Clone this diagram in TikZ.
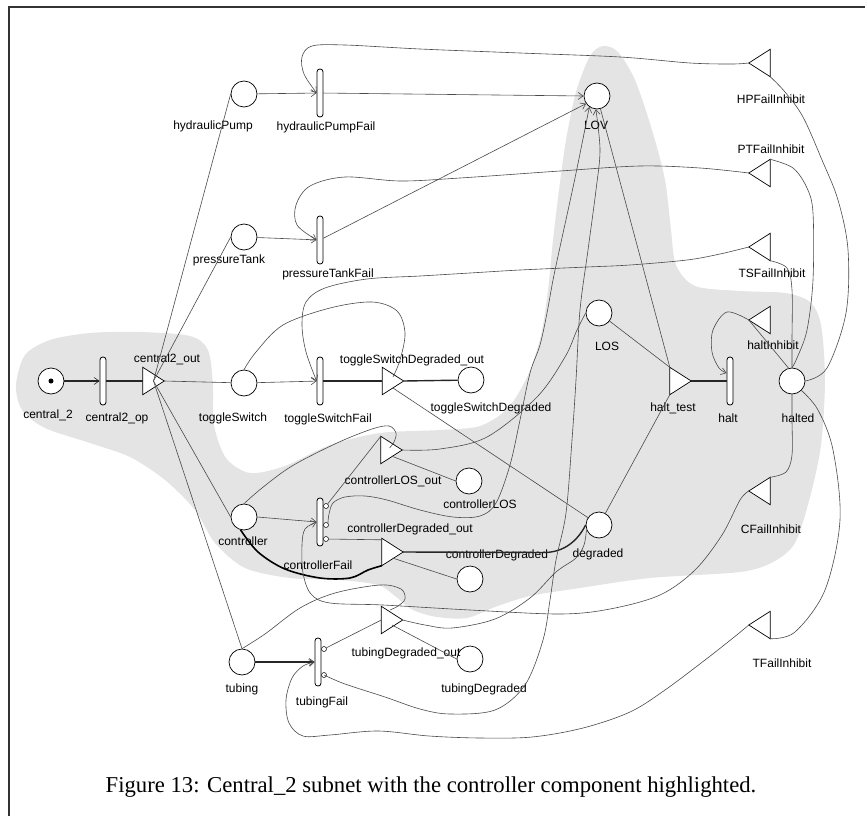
\documentclass[tikz,border=0pt]{standalone}
\usepackage{fontspec}
\setmainfont{Liberation Serif}
\newfontfamily\lblfont{Liberation Sans}
\usetikzlibrary{arrows.meta}
\definecolor{hilite}{HTML}{E4E4E4}
\definecolor{wire}{HTML}{4A4A4A}
\begin{document}
\begin{tikzpicture}[x=1pt,y=-1pt,
  place/.style={circle, draw=black, line width=0.7pt, fill=white, minimum size=26pt, inner sep=0pt},
  token/.style={circle, fill=black, minimum size=5pt, inner sep=0pt},
  trans/.style={rectangle, rounded corners=2.8pt, draw=black, line width=0.8pt, fill=white, minimum width=6pt, minimum height=48pt, inner sep=0pt},
  gate/.style={rectangle, minimum width=21pt, minimum height=27pt, inner sep=0pt},
  gateshape/.style={draw=black, line width=0.7pt, fill=white, line join=miter},
  casedot/.style={circle, draw=black, line width=0.5pt, fill=white, minimum size=5pt, inner sep=0pt},
  lbl/.style={font=\lblfont\fontsize{12}{14}\selectfont, anchor=base, inner sep=0pt},
  arcline/.style={draw=wire, line width=0.6pt},
  heavy/.style={draw=black!85, line width=1.4pt},
  thickarc/.style={draw=black, line width=1.6pt},
  arrowtip/.style={-{Straight Barb[length=5pt,width=7pt,line width=0.6pt]}},
  frame/.style={draw=black!80, line width=1.3pt}
]
\useasboundingbox (0,0) rectangle (865,816);

% highlighted component
\fill[hilite] plot[smooth cycle, tension=0.5] coordinates {
  (16,385) (25,355) (50,340) (90,333) (140,332) (190,336) (208,350) (213,385)
  (214,425) (226,458) (250,473) (285,466) (330,445) (380,433) (440,430) (480,426)
  (508,408) (528,375) (541,335) (548,290) (553,240) (559,190) (566,140) (576,92)
  (590,56) (603,46) (618,52) (635,80) (652,130) (665,180) (671,230) (676,265)
  (695,286) (740,291) (785,293) (810,302) (821,325) (825,380) (821,445) (810,497)
  (795,543) (773,562) (740,572) (650,578) (580,588) (530,596) (495,607) (467,618)
  (437,617) (413,610) (395,596) (378,585) (340,580) (290,578) (245,568) (215,543)
  (195,510) (165,480) (130,457) (90,443) (45,428) (22,410)};

% frame
\draw[frame] (9,816) -- (9,7) -- (865,7);

% places
\node[place] (c2) at (51,381) {};
\node[token] (c2tok) at (c2.center) {};
\node[place] (hp) at (244,94) {};
\node[place] (pt) at (244,237) {};
\node[place] (ts) at (244,383) {};
\node[place] (ctl) at (244,517) {};
\node[place] (tub) at (242,662) {};
\node[place] (lov) at (597,96) {};
\node[place] (tsdeg) at (471,380) {};
\node[place] (clos) at (469,481) {};
\node[place] (cdeg) at (470,579) {};
\node[place] (deg) at (599,525) {};
\node[place] (los) at (599,313) {};
\node[place] (halted) at (792,381) {};
\node[place] (tdeg) at (470,659) {};

% activities
\node[trans] (c2op) at (103,381) {};
\node[trans] (hpf) at (320,93) {};
\node[trans] (ptf) at (320,240) {};
\node[trans] (tsf) at (320,381) {};
\node[trans] (ctlf) at (320,522) {};
\node[trans] (tubf) at (318,662) {};
\node[trans] (halt) at (730,381) {};
\node[casedot] (cc1) at (326,506) {};
\node[casedot] (cc2) at (326,525) {};
\node[casedot] (cc3) at (326,539) {};
\node[casedot] (tc1) at (324,649) {};
\node[casedot] (tc2) at (324,675) {};

% output gates (pointing right)
\node[gate] (c2out) at (153.5,381) {};
\node[gate] (tsdo) at (393,381) {};
\node[gate] (clo) at (391.5,450) {};
\node[gate] (cdo) at (392.5,552) {};
\node[gate] (tdo) at (392,620) {};
\node[gate] (htest) at (680.5,381) {};
\foreach \g in {c2out,tsdo,clo,cdo,tdo,htest}
  \draw[gateshape] (\g.north west) -- (\g.east) -- (\g.south west) -- cycle;

% input gates (pointing left)
\node[gate] (hpfi) at (759.5,63) {};
\node[gate] (ptfi) at (759.5,173) {};
\node[gate] (tsfi) at (759.5,247) {};
\node[gate] (hinh) at (759.5,320) {};
\node[gate] (cfi) at (759.5,491) {};
\node[gate] (tfi) at (759.5,625) {};
\foreach \g in {hpfi,ptfi,tsfi,hinh,cfi,tfi}
  \draw[gateshape] (\g.north east) -- (\g.west) -- (\g.south east) -- cycle;

% labels
\node[lbl] (l1) at (48,418) {central\_2};
\node[lbl] (l2) at (117,421) {central2\_op};
\node[lbl] (l3) at (167,362) {central2\_out};
\node[lbl] (l4) at (213,129) {hydraulicPump};
\node[lbl] (l5) at (326,130) {hydraulicPumpFail};
\node[lbl] (l6) at (229,263) {pressureTank};
\node[lbl] (l7) at (328,277) {pressureTankFail};
\node[lbl] (l8) at (233,421) {toggleSwitch};
\node[lbl] (l9) at (328,422) {toggleSwitchFail};
\node[lbl] (l10) at (412,363) {toggleSwitchDegraded\_out};
\node[lbl] (l11) at (491,411) {toggleSwitchDegraded};
\node[lbl] (l12) at (393,484) {controllerLOS\_out};
\node[lbl] (l13) at (480,508) {controllerLOS};
\node[lbl] (l14) at (410,532) {controllerDegraded\_out};
\node[lbl] (l15) at (497,558) {controllerDegraded};
\node[lbl] (l16) at (243,545) {controller};
\node[lbl] (l17) at (318,569) {controllerFail};
\node[lbl] (l18) at (598,557) {degraded};
\node[lbl] (l19) at (607,350) {LOS};
\node[lbl] (l20) at (596,129) {LOV};
\node[lbl] (l21) at (673,411) {halt\_test};
\node[lbl] (l22) at (728,422) {halt};
\node[lbl] (l23) at (798,422) {halted};
\node[lbl] (l24) at (771,103) {HPFailInhibit};
\node[lbl] (l25) at (771,153) {PTFailInhibit};
\node[lbl] (l26) at (772,277) {TSFailInhibit};
\node[lbl] (l27) at (773,349) {haltInhibit};
\node[lbl] (l28) at (771,533) {CFailInhibit};
\node[lbl] (l29) at (782,667) {TFailInhibit};
\node[lbl] (l30) at (406,656) {tubingDegraded\_out};
\node[lbl] (l31) at (484,692) {tubingDegraded};
\node[lbl] (l32) at (242,692) {tubing};
\node[lbl] (l33) at (322,705) {tubingFail};

% central_2 chain
\draw[heavy, arrowtip] (c2) -- (c2op);
\draw[heavy] (c2op) -- (c2out.west);
\draw[arcline] (c2out.center) -- (hp.west);
\draw[arcline] (c2out.center) -- (pt.west);
\draw[arcline] (c2out.east) -- (ts);
\draw[arcline] (c2out.center) -- (ctl.west);
\draw[arcline] (c2out.center) -- (tub.north);

% hydraulic pump and pressure tank
\draw[arcline, arrowtip] (hp) -- (hpf);
\draw[arcline, arrowtip] (hpf) -- (lov.180);
\draw[arcline, arrowtip] plot[smooth, tension=0.55] coordinates {(hpfi.west) (732,64) (690,63) (620,57) (520,53) (420,49) (345,45) (312,46) (302,57) (304,74) (hpf.west)};
\draw[arcline, arrowtip] (pt) -- (ptf);
\draw[arcline, arrowtip] (ptf) -- (lov.215);
\draw[arcline, arrowtip] plot[smooth, tension=0.55] coordinates {(ptfi.west) (700,168) (640,166) (560,171) (460,178) (400,181) (345,177) (310,186) (296,205) (297,225) (ptf.west)};

% toggle switch
\draw[arcline, arrowtip] (ts) -- (tsf);
\draw[heavy] (tsf) -- (tsdo.west);
\draw[heavy] (tsdo.east) -- (tsdeg);
\draw[arcline, arrowtip] plot[smooth, tension=0.55] coordinates {(tsfi.west) (720,254) (687,260) (630,265) (587,267) (520,270) (470,273) (420,276) (367,279) (325,288) (306,302) (302,325) (306,352) (tsf.west)};
\draw[arcline] plot[smooth, tension=0.55] coordinates {(ts.north) (256,352) (283,325) (330,308) (372,302) (397,311) (405,333) (400,360) ([yshift=4pt]tsdo.center)};
\draw[arcline] ([yshift=-7pt]tsdo.center) -- (deg);

% controller
\draw[arcline, arrowtip] (ctl.east) -- (ctlf.west);
\draw[arcline] plot[smooth, tension=0.55] coordinates {(ctl.north) (262,488) (292,466) (337,443) (372,429) (389,426) (396,433) (394,442) ([xshift=-2pt,yshift=2pt]clo.center)};
\draw[thickarc] plot[smooth, tension=0.55] coordinates {(ctl.255) (258,552) (285,569) (320,578) (350,578) (368,570) (cdo.south west)};
\draw[arcline] (cc1) -- (clo.north west);
\draw[arcline, arrowtip] plot[smooth, tension=0.55] coordinates {(cc2.north east) (329,514) (333,503) (345,497) (365,496) (387,500) (420,510) (453,517) (480,516) (496,503) (510,465) (520,420) (530,373) (540,345) (547,313) (553,280) (560,247) (575,178) (lov.235)};
\draw[arcline] (cc3) -- ([yshift=-1.5pt]cdo.north west);
\draw[arcline] ([yshift=-6pt]cdo.center) -- (cdeg.west);
\draw[heavy] (cdo.east) -- (545,552.5) .. controls (565,552) and (578,540) .. (deg.west);
\draw[arcline] plot[smooth, tension=0.55] coordinates {(clo.east) (440,449) (487,437) (537,397) (565,357) (577,330) (los.west)};
\draw[arcline] ([yshift=-6pt]clo.center) -- (clos.west);
\draw[arcline, arrowtip] plot[smooth, tension=0.55] coordinates {(cfi.west) (740,500) (722,535) (695,570) (660,595) (610,609) (560,614) (470,610) (383,605) (330,603) (311,594) (303,573) (302,545) (305,529) (ctlf.west)};

% tubing
\draw[heavy, arrowtip] (tub) -- (tubf);
\draw[arcline] plot[smooth, tension=0.55] coordinates {(tub.north) (265,634) (300,608) (335,593) (380,585) (401,589) (405,599) (398,606) ([xshift=-2pt,yshift=10pt]tdo.center)};
\draw[arcline] (tc1) -- (tdo.west);
\draw[arcline] ([yshift=-5pt]tdo.center) -- (tdeg.west);
\draw[arcline] plot[smooth, tension=0.55] coordinates {(tdo.east) (425,625) (452,628) (495,619) (530,598) (556,572) (576,558) (584,545) (deg.200)};
\draw[arcline, arrowtip] plot[smooth, tension=0.55] coordinates {(tc2) (345,684) (385,697) (420,709) (450,714) (495,710) (525,685) (543,640) (550,600) (556,560) (566,513) (572,440) (576,380) (580,310) (588,250) (596,190) (600,150) (lov.265)};
\draw[arcline, arrowtip] plot[smooth, tension=0.55] coordinates {(tfi.west) (733,638) (705,660) (665,690) (630,712) (583,728) (532,737) (480,738) (429,736) (378,731) (330,735) (303,736) (289,723) (286,700) (292,678) (303,666) (tubf.west)};

% halt test
\draw[arcline] (lov) -- (htest.north west);
\draw[arcline] (los) -- (htest.north west);
\draw[arcline] (deg) -- (htest.south west);
\draw[heavy] (htest.east) -- (halt);

% inhibitor gates fed by halted
\draw[arcline] plot[smooth, tension=0.55] coordinates {(halted.east) (827,368) (846,313) (848,250) (838,200) (822,160) (803,117) (785,92) (hpfi.south east)};
\draw[arcline] plot[smooth, tension=0.55] coordinates {(halted.north) (797,358) (807,330) (813,280) (813,213) (807,188) (793,168) (ptfi.north east)};
\draw[arcline] plot[smooth, tension=0.55] coordinates {(halted.north) (792,340) (792,290) (787,268) (tsfi.south east)};
\draw[arcline] (halted.105) -- (hinh.west);
\draw[arcline, arrowtip] plot[smooth, tension=0.55] coordinates {(hinh.west) (727,312) (713,330) (712,352) (719,368) ([yshift=8pt]halt.west)};
\draw[arcline] plot[smooth, tension=0.55] coordinates {(halted.south) (792,420) (792,455) (786,472) (cfi.north east)};
\draw[arcline] plot[smooth, tension=0.55] coordinates {(halted.south east) (818,410) (833,450) (840,520) (825,590) (795,632) (tfi.south east)};

% caption
\node[anchor=base, inner sep=0pt, font=\fontsize{22.7}{26}\selectfont] (caption) at (431,792)
  {Figure 13: Central\_2 subnet with the controller component highlighted.};
\end{tikzpicture}
\end{document}
